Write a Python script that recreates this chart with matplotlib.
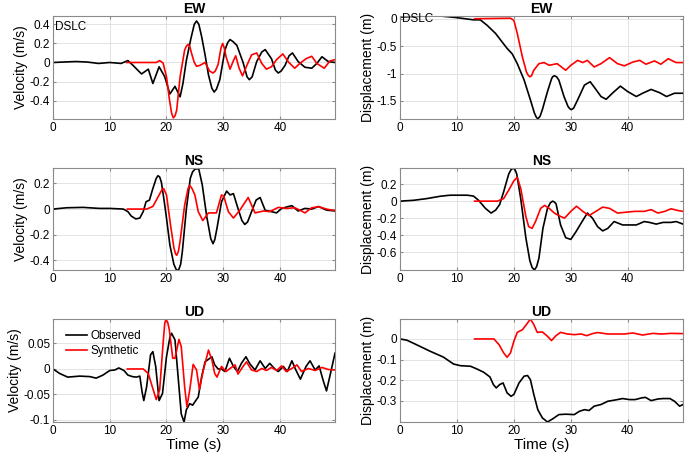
import numpy as np
import matplotlib
matplotlib.use("Agg")
import matplotlib.pyplot as plt
from matplotlib.ticker import FuncFormatter

plt.rcParams['font.family'] = ['Liberation Sans', 'DejaVu Sans']

# digitized (time s, value) pairs
ew_vel_obs = [(0, 0), (2, 0.005), (4, 0.01), (6, 0.005), (8, -0.01), (10, 0.0), (12, -0.01),
              (13.2, 0.02), (14.1, -0.03), (15.6, -0.12), (16.8, -0.07), (17.6, -0.22), (18.7, -0.045),
              (19.7, -0.15), (20.6, -0.33), (21.5, -0.25), (22.4, -0.36), (22.9, -0.22), (23.5, 0.02),
              (24.3, 0.25), (24.9, 0.40), (25.3, 0.435), (25.7, 0.40), (26.2, 0.27), (26.8, 0.08),
              (27.4, -0.13), (28.0, -0.27), (28.4, -0.31), (28.8, -0.28), (29.4, -0.18), (30.3, 0.13),
              (30.8, 0.21), (31.2, 0.24), (31.7, 0.22), (32.4, 0.18), (33.5, 0.0), (34.2, -0.15),
              (34.6, -0.18), (35.1, -0.15), (35.9, 0.01), (36.8, 0.11), (37.4, 0.135), (38.5, 0.04),
              (39.2, -0.08), (39.7, -0.11), (40.2, -0.09), (40.9, -0.03), (41.6, 0.07), (42.2, 0.10),
              (43.2, 0.01), (44.4, -0.05), (45.6, -0.06), (46.5, -0.01), (47.4, 0.06), (48.5, 0.01),
              (49.7, 0.0)]
ew_vel_syn = [(13.0, 0), (18.2, 0), (18.8, 0.02), (19.4, -0.005), (20.0, -0.15), (20.5, -0.38),
              (20.9, -0.53), (21.2, -0.58), (21.5, -0.56), (21.8, -0.5), (22.4, -0.15), (23.2, 0.13),
              (23.5, 0.17), (23.8, 0.19), (24.1, 0.17), (24.4, 0.1), (24.9, 0.0), (25.3, -0.04),
              (25.9, -0.03), (26.8, 0.0), (27.6, -0.09), (28.2, -0.11), (28.6, -0.09), (29.1, -0.02),
              (29.6, 0.15), (29.9, 0.2), (30.2, 0.15), (30.5, 0.06), (31.2, -0.07), (31.8, 0.02),
              (32.2, 0.07), (32.8, -0.06), (33.4, -0.14), (34.1, -0.04), (35.0, 0.08), (35.9, 0.1),
              (36.8, -0.01), (37.6, -0.07), (38.5, -0.045), (39.4, 0.03), (40.5, 0.09), (41.5, 0.005),
              (42.6, -0.06), (43.5, -0.01), (44.6, 0.04), (45.6, 0.065), (46.5, -0.01), (47.8, -0.06),
              (48.8, 0.015), (49.7, 0.03)]

ew_dis_obs = [(0, 0.03), (4.1, 0.05), (7.1, 0.05), (10, 0.02), (12.9, -0.02), (14.1, -0.02),
              (15.3, -0.12), (16.8, -0.27), (17.9, -0.42), (18.8, -0.54), (19.7, -0.64), (20.6, -0.82),
              (21.8, -1.12), (22.9, -1.48), (23.6, -1.72), (23.9, -1.79), (24.2, -1.83), (24.6, -1.78),
              (25.0, -1.66), (25.9, -1.33), (26.6, -1.1), (26.8, -1.06), (27.1, -1.04), (27.5, -1.06),
              (27.9, -1.12), (28.8, -1.42), (29.5, -1.6), (29.8, -1.64), (30.1, -1.66), (30.5, -1.63),
              (31.2, -1.48), (32.4, -1.21), (33.4, -1.15), (34.4, -1.29), (35.3, -1.42), (36.2, -1.47),
              (37.4, -1.35), (38.7, -1.23), (40.0, -1.33), (41.5, -1.42), (42.6, -1.36), (44.1, -1.29),
              (45.6, -1.35), (46.8, -1.42), (48.2, -1.36), (49.7, -1.36)]
ew_dis_syn = [(13.1, 0), (19.4, 0.01), (20.0, -0.03), (20.6, -0.27), (21.5, -0.70), (22.2, -0.97),
              (22.5, -1.03), (22.8, -1.06), (23.1, -1.04), (23.5, -0.94), (24.4, -0.82), (25.3, -0.80),
              (26.2, -0.85), (27.6, -0.82), (29.1, -0.94), (30.0, -0.85), (31.2, -0.76), (32.1, -0.80),
              (32.9, -0.76), (34.1, -0.88), (35.3, -0.82), (36.8, -0.71), (38.2, -0.82), (39.4, -0.86),
              (40.9, -0.79), (42.1, -0.76), (43.2, -0.83), (44.7, -0.77), (45.8, -0.83), (47.1, -0.73),
              (48.5, -0.80), (49.7, -0.80)]

ns_vel_obs = [(0, 0), (2.4, 0.01), (5.3, 0.013), (8.2, 0.005), (10, 0.005), (12.4, 0), (13.2, -0.02),
              (13.8, -0.055), (14.6, -0.077), (15.3, -0.07), (15.9, -0.02), (16.4, 0.057), (17.0, 0.07),
              (17.6, 0.16), (18.2, 0.24), (18.5, 0.26), (18.8, 0.25), (19.1, 0.21), (19.7, 0.03),
              (20.0, -0.07), (20.6, -0.28), (21.3, -0.43), (21.7, -0.47), (22.1, -0.48), (22.5, -0.43),
              (22.8, -0.33), (23.5, 0.0), (24.2, 0.24), (24.6, 0.29), (25.0, 0.31), (25.4, 0.315),
              (25.7, 0.31), (26.3, 0.19), (27.1, -0.06), (27.8, -0.23), (28.2, -0.27), (28.5, -0.24),
              (28.9, -0.15), (29.7, 0.057), (30.6, 0.14), (31.2, 0.11), (31.8, 0.12), (32.6, 0.005),
              (33.3, -0.09), (33.8, -0.12), (34.3, -0.1), (35.0, -0.02), (35.8, 0.07), (36.5, 0.09),
              (37.4, -0.01), (38.5, -0.02), (39.4, -0.03), (40.3, 0.005), (41.5, 0.02), (42.1, 0.026),
              (43.2, -0.015), (44.4, 0.005), (45.6, 0.0), (46.8, 0.02), (48.2, -0.008), (49.7, -0.015)]
ns_vel_syn = [(13.1, 0), (16.5, 0), (17.6, 0.02), (18.7, 0.11), (19.2, 0.15), (19.5, 0.16), (20.0, 0.11),
              (20.7, -0.12), (21.3, -0.30), (21.6, -0.35), (21.8, -0.36), (22.1, -0.33), (22.4, -0.25),
              (23.2, 0.03), (23.8, 0.16), (24.1, 0.185), (24.5, 0.16), (25.0, 0.11), (25.6, -0.02),
              (26.4, -0.09), (27.4, -0.03), (28.8, -0.03), (29.7, 0.11), (30.1, 0.10), (30.9, -0.02),
              (31.8, -0.07), (32.9, -0.01), (34.4, 0.09), (35.6, -0.03), (37.1, -0.015), (38.2, -0.02),
              (39.7, 0.013), (41.2, 0.005), (42.6, 0.01), (43.5, -0.008), (44.4, -0.03), (45.6, 0.01),
              (46.8, 0.018), (48.2, 0.0), (49.7, -0.013)]

ns_dis_obs = [(0, 0), (2.4, 0.01), (4.7, 0.03), (7.1, 0.058), (8.8, 0.07), (11.8, 0.07), (12.9, 0.06),
              (13.8, 0.01), (15.0, -0.085), (16.0, -0.14), (16.8, -0.105), (17.5, -0.04), (18.2, 0.11),
              (19.1, 0.32), (19.5, 0.37), (19.9, 0.39), (20.2, 0.37), (20.5, 0.32), (21.2, 0.03),
              (22.1, -0.43), (22.8, -0.70), (23.2, -0.78), (23.6, -0.81), (24.0, -0.77), (24.4, -0.67),
              (25.1, -0.32), (25.9, -0.085), (26.4, -0.02), (26.8, 0.0), (27.1, -0.01), (27.4, -0.03),
              (28.2, -0.28), (29.1, -0.43), (30.0, -0.45), (30.9, -0.36), (31.8, -0.26), (32.9, -0.14),
              (33.8, -0.2), (34.7, -0.30), (35.6, -0.35), (36.5, -0.32), (37.6, -0.24), (39.1, -0.28),
              (40.3, -0.28), (41.5, -0.28), (42.9, -0.24), (43.8, -0.25), (45.0, -0.27), (46.2, -0.25),
              (47.6, -0.25), (48.5, -0.24), (49.7, -0.27)]
ns_dis_syn = [(13.1, 0), (17.1, 0), (18.2, 0.03), (19.1, 0.13), (20.0, 0.24), (20.6, 0.28), (21.2, 0.15),
              (22.1, -0.18), (22.6, -0.30), (23.2, -0.32), (23.8, -0.24), (24.7, -0.085), (25.4, -0.05),
              (26.2, -0.085), (27.1, -0.14), (28.2, -0.18), (28.9, -0.20), (30.0, -0.12), (31.0, -0.06),
              (32.1, -0.12), (33.2, -0.17), (34.4, -0.12), (35.6, -0.07), (36.8, -0.085), (38.2, -0.14),
              (39.7, -0.13), (41.2, -0.12), (42.9, -0.12), (44.1, -0.10), (45.3, -0.14), (46.5, -0.12),
              (47.6, -0.09), (48.8, -0.11), (49.7, -0.12)]

ud_vel_obs = [(0, 0), (1.2, -0.009), (2.6, -0.016), (4.7, -0.014), (6.5, -0.015), (7.6, -0.018),
              (8.8, -0.012), (10.0, -0.003), (10.9, -0.002), (11.6, 0.002), (12.5, -0.003), (13.2, -0.012),
              (14.0, -0.015), (14.7, -0.016), (15.3, -0.014), (15.7, -0.045), (16.0, -0.062), (16.5, -0.035),
              (17.2, 0.028), (17.6, 0.034), (18.1, 0.005), (18.7, -0.062), (19.3, -0.048), (20.0, 0.024),
              (20.6, 0.062), (20.9, 0.07), (21.5, 0.057), (22.1, -0.022), (22.6, -0.088), (23.1, -0.104),
              (23.5, -0.08), (24.1, -0.068), (24.6, -0.071), (25.6, -0.055), (26.2, -0.015), (26.8, 0.014),
              (27.4, 0.019), (28.0, 0.024), (28.5, 0.008), (29.1, 0.0), (29.7, 0.0), (30.3, -0.005),
              (31.1, 0.021), (31.8, 0.005), (32.5, -0.005), (33.2, 0.011), (34.0, 0.024), (34.7, 0.01),
              (35.6, -0.002), (36.5, 0.016), (37.4, 0.001), (38.2, 0.011), (39.1, 0.0), (39.7, -0.005),
              (40.6, 0.005), (41.3, -0.005), (42.1, 0.016), (42.8, -0.002), (43.6, -0.02), (44.6, 0.005),
              (45.3, 0.016), (46.2, -0.002), (46.9, 0.006), (47.6, -0.022), (48.2, -0.043), (48.9, -0.009),
              (49.7, 0.031)]
ud_vel_syn = [(13.1, 0), (15.9, 0), (16.8, -0.009), (17.5, -0.035), (18.2, -0.06), (18.8, -0.041),
              (19.4, 0.05), (19.7, 0.09), (19.9, 0.097), (20.2, 0.092), (20.5, 0.077), (21.1, 0.021),
              (21.5, 0.021), (22.2, 0.058), (22.6, 0.044), (23.2, -0.035), (23.6, -0.074), (24.1, -0.041),
              (24.7, 0.009), (25.3, -0.002), (25.8, -0.04), (26.5, -0.002), (27.4, 0.037), (28.0, 0.018),
              (28.5, -0.009), (28.9, -0.016), (29.7, 0.005), (30.5, -0.005), (31.2, 0.001), (32.1, 0.008),
              (32.6, -0.01), (33.5, 0.005), (34.1, 0.014), (35.0, -0.002), (35.9, -0.005), (36.8, 0.001),
              (37.6, -0.003), (38.5, 0.003), (39.4, -0.003), (40.3, 0.006), (41.1, -0.005), (42.1, 0.001),
              (43.0, 0.008), (43.8, -0.005), (45.0, 0.001), (46.2, -0.003), (47.4, 0.003), (48.5, -0.001),
              (49.7, -0.002)]

ud_dis_obs = [(0, 0), (1.2, -0.006), (2.9, -0.028), (5.3, -0.06), (7.6, -0.088), (9.4, -0.122),
              (10.6, -0.13), (12.4, -0.133), (13.5, -0.146), (14.7, -0.162), (15.8, -0.185), (16.4, -0.222),
              (16.9, -0.238), (17.5, -0.222), (18.1, -0.214), (18.8, -0.262), (19.5, -0.279), (20.0, -0.27),
              (20.9, -0.214), (21.8, -0.181), (22.4, -0.178), (22.9, -0.198), (23.5, -0.27), (24.2, -0.344),
              (25.0, -0.384), (25.9, -0.404), (26.8, -0.389), (27.9, -0.368), (29.1, -0.366), (30.6, -0.368),
              (31.5, -0.352), (32.4, -0.344), (33.2, -0.348), (34.1, -0.327), (35.3, -0.319), (36.5, -0.303),
              (37.6, -0.298), (39.1, -0.29), (40.3, -0.295), (41.3, -0.295), (42.4, -0.287), (43.1, -0.284),
              (44.1, -0.3), (45.3, -0.292), (46.2, -0.29), (47.4, -0.29), (48.2, -0.303), (49.1, -0.327),
              (49.7, -0.319)]
ud_dis_syn = [(13.1, 0), (16.5, 0), (17.4, -0.028), (18.2, -0.068), (18.8, -0.089), (19.4, -0.068),
              (20.0, -0.011), (20.6, 0.032), (21.5, 0.045), (22.2, 0.07), (22.9, 0.097), (23.5, 0.07),
              (24.1, 0.032), (25.0, 0.034), (25.9, 0.013), (26.6, -0.008), (27.4, 0.016), (28.2, 0.032),
              (29.4, 0.024), (30.6, 0.021), (31.8, 0.024), (32.8, 0.016), (33.8, 0.026), (34.7, 0.031),
              (36.5, 0.024), (39.4, 0.024), (40.9, 0.029), (42.6, 0.019), (44.4, 0.027), (45.9, 0.024),
              (47.6, 0.027), (49.7, 0.026)]

titles = ["EW", "NS", "UD"]
xticks = [0, 10, 20, 30, 40]
vel_yticks = [[-0.4, -0.2, 0, 0.2, 0.4], [-0.4, -0.2, 0, 0.2], [-0.1, -0.05, 0, 0.05]]
dis_yticks = [[-1.5, -1, -0.5, 0], [-0.6, -0.4, -0.2, 0, 0.2], [-0.3, -0.2, -0.1, 0]]
vel_ylim = [(-0.592, 0.487), (-0.475, 0.32), (-0.104, 0.098)]
dis_ylim = [(-1.83, 0.05), (-0.81, 0.39), (-0.404, 0.097)]

vel = [(ew_vel_obs, ew_vel_syn), (ns_vel_obs, ns_vel_syn), (ud_vel_obs, ud_vel_syn)]
dis = [(ew_dis_obs, ew_dis_syn), (ns_dis_obs, ns_dis_syn), (ud_dis_obs, ud_dis_syn)]

fig = plt.figure(figsize=(6.85, 4.59), dpi=100)
W, H = 685.0, 459.0
rows = [(16, 119), (168, 270), (319, 422)]
cols = [(53, 335), (400, 683)]

fmt = FuncFormatter(lambda v, p: ('%g' % v))


def style(ax, ylim, yticks):
    ax.set_xlim(0, 49.7)
    ax.set_ylim(*ylim)
    ax.set_xticks(xticks)
    ax.set_yticks(yticks)
    ax.yaxis.set_major_formatter(fmt)
    ax.grid(True, color='#e3e3e3', lw=0.7)
    ax.set_axisbelow(True)
    for s in ax.spines.values():
        s.set_color('#8a8a8a')
        s.set_linewidth(0.8)
    ax.tick_params(direction='in', length=2.5, color='#8a8a8a', labelsize=8.5, pad=2,
                   top=True, right=True)


for i in range(3):
    for j in range(2):
        top, bot = rows[i]
        l, r = cols[j]
        ax = fig.add_axes([l / W, 1 - bot / H, (r - l) / W, (bot - top) / H])
        obs, syn = (vel if j == 0 else dis)[i]
        o = np.array(obs)
        s = np.array(syn)
        ax.plot(o[:, 0], o[:, 1], color='black', lw=1.2, label='Observed', solid_joinstyle='round')
        ax.plot(s[:, 0], s[:, 1], color='red', lw=1.2, label='Synthetic', solid_joinstyle='round')
        if j == 0:
            style(ax, vel_ylim[i], vel_yticks[i])
            ax.set_ylabel('Velocity (m/s)', fontsize=10, labelpad=1)
        else:
            style(ax, dis_ylim[i], dis_yticks[i])
            ax.set_ylabel('Displacement (m)', fontsize=10, labelpad=1)
        ax.set_title(titles[i], fontsize=10, fontweight='bold', pad=2)
        if i == 2:
            ax.set_xlabel('Time (s)', fontsize=11, labelpad=1)
        if i == 0:
            ax.text(0.3, 0.37 if j == 0 else 0.0, 'DSLC', fontsize=8.5, va='center', ha='left')
        if i == 2 and j == 0:
            ax.legend(loc='upper left', bbox_to_anchor=(0.02, 0.96), frameon=False, fontsize=8.5,
                      handlelength=1.8, handletextpad=0.3, labelspacing=0.25, borderaxespad=0.2)

fig.savefig('out.png', dpi=100)
